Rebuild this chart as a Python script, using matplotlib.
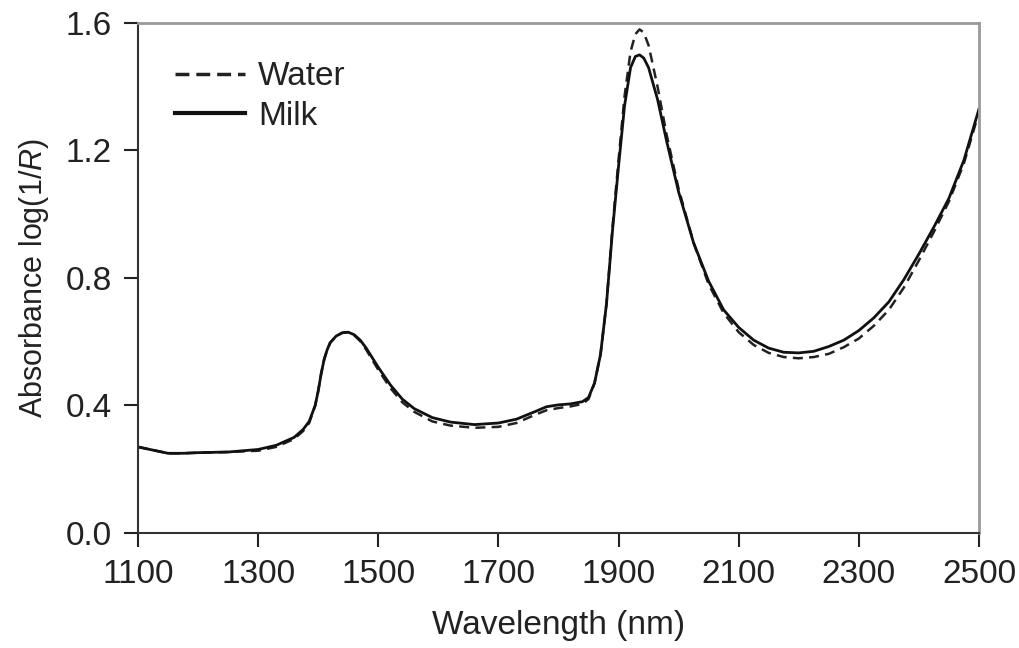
import matplotlib
matplotlib.use("Agg")
import matplotlib.pyplot as plt

plt.rcParams['font.family'] = ['Liberation Sans', 'DejaVu Sans']
plt.rcParams['mathtext.fontset'] = 'custom'
plt.rcParams['mathtext.rm'] = 'Liberation Sans'
plt.rcParams['mathtext.it'] = 'Liberation Sans:italic'

# wavelength (nm) and absorbance
milk_wl = [1100, 1125, 1150, 1175, 1200, 1250, 1300, 1330, 1360, 1375, 1385, 1395,
           1400, 1405, 1410, 1415, 1420, 1430, 1440, 1450, 1460, 1470, 1480, 1500,
           1520, 1540, 1560, 1590, 1620, 1660, 1700, 1730, 1760, 1780, 1800, 1820,
           1840, 1850, 1860, 1870, 1880, 1890, 1900, 1910, 1920, 1928, 1935, 1942,
           1950, 1965, 1980, 2000, 2025, 2050, 2075, 2100, 2125, 2150, 2175, 2200,
           2225, 2250, 2275, 2300, 2325, 2350, 2375, 2400, 2425, 2450, 2475, 2500]
milk_abs = [0.27, 0.26, 0.25, 0.25, 0.252, 0.254, 0.262, 0.275, 0.30, 0.325, 0.35, 0.40,
            0.445, 0.50, 0.545, 0.575, 0.597, 0.618, 0.628, 0.63, 0.622, 0.605, 0.58, 0.52,
            0.465, 0.42, 0.39, 0.362, 0.348, 0.34, 0.345, 0.357, 0.38, 0.396, 0.402, 0.405,
            0.412, 0.425, 0.47, 0.56, 0.72, 0.95, 1.15, 1.34, 1.46, 1.495, 1.50, 1.49,
            1.46, 1.36, 1.23, 1.07, 0.91, 0.79, 0.70, 0.645, 0.605, 0.58, 0.567, 0.565,
            0.57, 0.585, 0.605, 0.635, 0.675, 0.725, 0.795, 0.875, 0.96, 1.05, 1.17, 1.33]

water_wl = milk_wl
water_abs = [0.27, 0.26, 0.25, 0.25, 0.252, 0.254, 0.258, 0.27, 0.295, 0.32, 0.345, 0.40,
             0.445, 0.50, 0.545, 0.575, 0.597, 0.618, 0.628, 0.63, 0.62, 0.602, 0.575, 0.512,
             0.455, 0.41, 0.38, 0.35, 0.337, 0.33, 0.333, 0.345, 0.37, 0.385, 0.392, 0.397,
             0.405, 0.42, 0.47, 0.56, 0.72, 0.96, 1.17, 1.37, 1.51, 1.565, 1.58, 1.57,
             1.53, 1.40, 1.25, 1.08, 0.91, 0.78, 0.69, 0.63, 0.59, 0.565, 0.552, 0.548,
             0.552, 0.562, 0.583, 0.61, 0.65, 0.70, 0.77, 0.855, 0.945, 1.04, 1.16, 1.32]

x_ticks = [1100, 1300, 1500, 1700, 1900, 2100, 2300, 2500]
y_ticks = [0.0, 0.4, 0.8, 1.2, 1.6]

fig = plt.figure(figsize=(10.19, 6.48), dpi=100)
ax = fig.add_axes([0.1354, 0.1775, 0.8253, 0.787])

ax.plot(water_wl, water_abs, color='#222222', lw=1.8, linestyle=(0, (4, 2.5)), label='Water')
ax.plot(milk_wl, milk_abs, color='#111111', lw=2.0, label='Milk')

ax.set_xlim(1100, 2500)
ax.set_ylim(0, 1.6)
ax.set_xticks(x_ticks)
ax.set_yticks(y_ticks)
ax.set_yticklabels(['%.1f' % v for v in y_ticks])
ax.tick_params(direction='out', length=10, width=1.5, labelsize=24, colors='#222222', pad=9)

for s in ['top', 'right']:
    ax.spines[s].set_color('#999999')
    ax.spines[s].set_linewidth(2)
for s in ['left', 'bottom']:
    ax.spines[s].set_color('#333333')
    ax.spines[s].set_linewidth(1.5)

ax.set_xlabel('Wavelength (nm)', fontsize=24, color='#222222', labelpad=14)
ax.set_ylabel('Absorbance log(1/$\\mathit{R}$)', fontsize=22, color='#222222', labelpad=10)

leg = ax.legend(loc='upper left', frameon=False, fontsize=24, handlelength=2.1,
                handletextpad=0.4, labelspacing=0.25, borderpad=0, borderaxespad=0,
                bbox_to_anchor=(0.044, 0.925))
for t in leg.get_texts():
    t.set_color('#222222')
leg.get_lines()[0].set_linestyle((0, (4, 2)))
leg.get_lines()[0].set_linewidth(2.5)
leg.get_lines()[1].set_linewidth(3)

fig.savefig('out.png', dpi=100)
